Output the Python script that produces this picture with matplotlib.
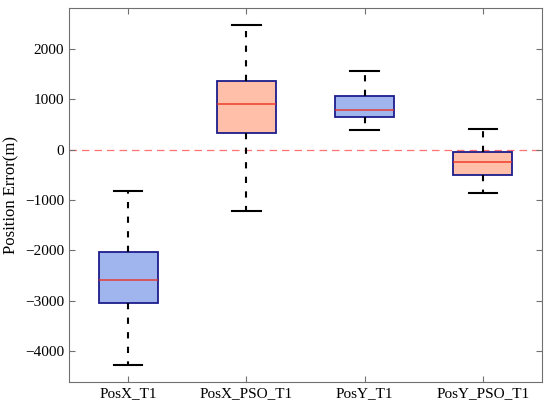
import matplotlib
matplotlib.use("Agg")
import matplotlib.pyplot as plt

plt.rcParams['font.family'] = ['Liberation Serif', 'DejaVu Serif']

# box statistics (m)
labels = ['PosX_T1', 'PosX_PSO_T1', 'PosY_T1', 'PosY_PSO_T1']
whislo = [-4290, -1223, 390, -864]
q1 = [-3050, 325, 661, -512]
med = [-2590, 911, 793, -253]
q3 = [-2040, 1368, 1072, -40]
whishi = [-820, 2472, 1575, 403]
fills = ['#a0b5ee', '#ffbfa8', '#a0b5ee', '#ffbfa8']

stats = []
for i in range(len(labels)):
    stats.append(dict(label=labels[i], whislo=whislo[i], q1=q1[i], med=med[i],
                      q3=q3[i], whishi=whishi[i], fliers=[]))

fig = plt.figure(figsize=(5.5, 4.11), dpi=100)
ax = fig.add_axes([69 / 550, 1 - 382 / 411, 473 / 550, 374 / 411])

ax.axhline(0, color='red', alpha=0.55, linestyle=(0, (6, 4)), linewidth=0.9, zorder=0)

bp = ax.bxp(stats, positions=range(1, len(labels) + 1), widths=0.5,
            patch_artist=True, showfliers=False,
            boxprops=dict(edgecolor='#1c1c8c', linewidth=1.3),
            medianprops=dict(color='#ee2a1a', linewidth=1.2, alpha=0.8),
            whiskerprops=dict(color='black', linewidth=1.5, linestyle=(0, (3, 4))),
            capprops=dict(color='black', linewidth=1.5),
            capwidths=0.24)
for patch, c in zip(bp['boxes'], fills):
    patch.set_facecolor(c)

ax.set_xlim(0.5, 4.5)
ax.set_ylim(-4620, 2820)
ax.set_yticks([-4000, -3000, -2000, -1000, 0, 1000, 2000])
ax.set_ylabel('Position Error(m)', fontsize=12)
ax.tick_params(direction='in', top=True, right=True, labelsize=11,
               color='#707070', length=4)
for s in ax.spines.values():
    s.set_color('#707070')
    s.set_linewidth(0.8)

fig.savefig('out.png', dpi=100)
